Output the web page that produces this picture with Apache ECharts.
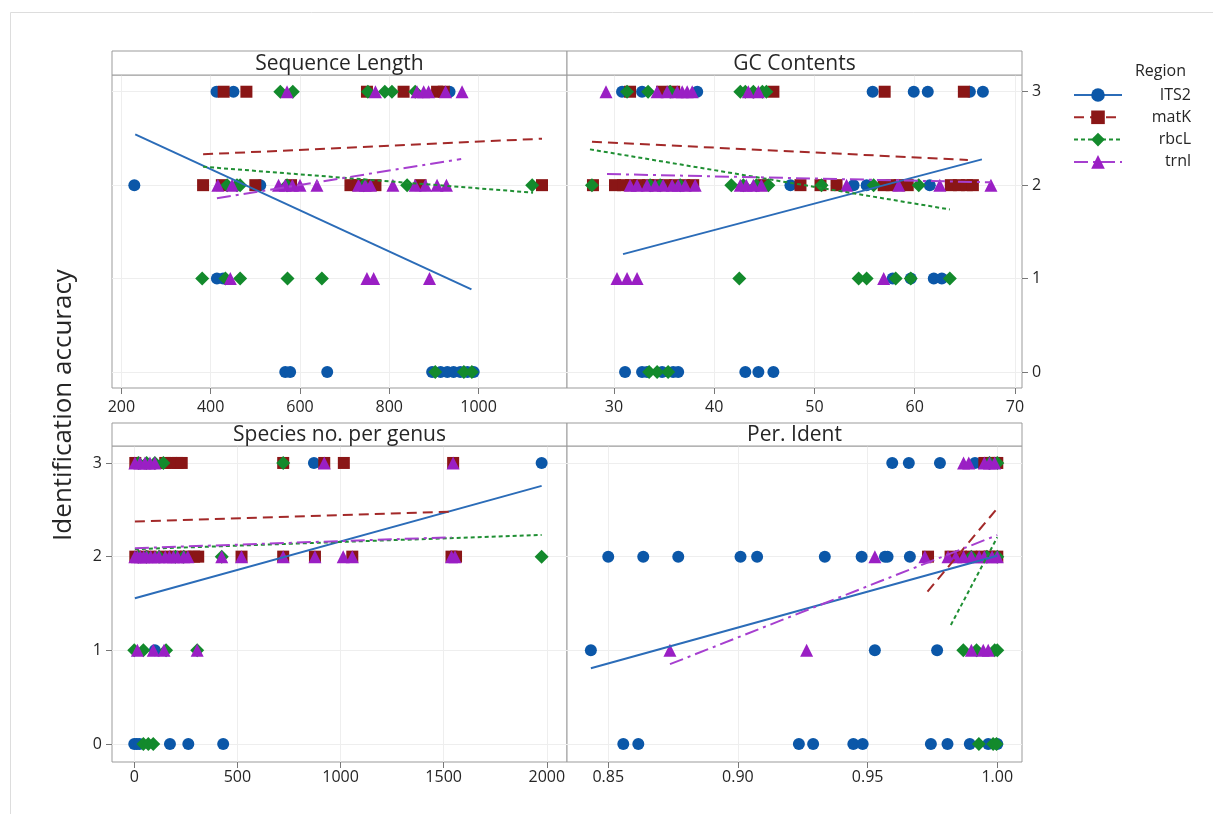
<!DOCTYPE html>
<html><head><meta charset="utf-8">
<script src="https://cdn.jsdelivr.net/npm/echarts@6/dist/echarts.min.js"></script>
<style>html,body{margin:0;padding:0;background:#fff}#c{width:1213px;height:814px}</style>
</head><body><div id="c"></div>
<script>
const regions = ['ITS2', 'matK', 'rbcL', 'trnl'];
const panelTitles = ['Sequence Length', 'GC Contents', 'Species no. per genus', 'Per. Ident'];
const yTicks = [0, 1, 2, 3];
const seqTicks = [200, 400, 600, 800, 1000];
const gcTicks = [30, 40, 50, 60, 70];
const spTicks = [0, 500, 1000, 1500, 2000];
const piTicks = [0.85, 0.90, 0.95, 1.00];

// Sequence Length
const seqITS2 = [[413,3],[451,3],[935,3],[229,2],[511,2],[414,1],[428,1],[567,0],[578,0],[661,0],[896,0],[915,0],[930,0],[944,0],[959,0],[975,0],[989,0]];
const seqMatK = [[429,3],[480,3],[750,3],[832,3],[907,3],[922,3],[383,2],[425,2],[500,2],[580,2],[713,2],[730,2],[750,2],[769,2],[870,2],[1142,2]];
const seqRbcL = [[556,3],[584,3],[752,3],[790,3],[806,3],[858,3],[437,2],[459,2],[466,2],[571,2],[743,2],[840,2],[1120,2],[381,1],[433,1],[466,1],[572,1],[649,1],[903,0],[967,0],[985,0]];
const seqTrnl = [[571,3],[769,3],[862,3],[877,3],[888,3],[926,3],[963,3],[416,2],[448,2],[552,2],[567,2],[583,2],[600,2],[638,2],[731,2],[746,2],[758,2],[808,2],[858,2],[881,2],[907,2],[928,2],[444,1],[750,1],[765,1],[890,1]];
const seqFitITS2 = [[231,2.544],[984,0.884]];
const seqFitMatK = [[383,2.33],[1142,2.497]];
const seqFitRbcL = [[383,2.197],[1122,1.92]];
const seqFitTrnl = [[414,1.859],[961,2.28]];

// GC Contents
const gcITS2 = [[30.8,3],[32.8,3],[38.3,3],[55.8,3],[59.9,3],[61.3,3],[65.5,3],[66.8,3],[47.6,2],[53.9,2],[55.2,2],[61.5,2],[57.8,1],[59.6,1],[61.9,1],[62.7,1],[31.1,0],[32.8,0],[33.3,0],[34.8,0],[35.9,0],[36.4,0],[43.1,0],[44.4,0],[45.9,0]];
const gcMatK = [[31.6,3],[34.8,3],[36.0,3],[45.9,3],[57.0,3],[64.9,3],[27.9,2],[30.1,2],[30.9,2],[31.7,2],[32.5,2],[33.4,2],[34.3,2],[35.2,2],[36.1,2],[37.0,2],[37.9,2],[44.9,2],[48.6,2],[50.6,2],[52.2,2],[56.9,2],[57.7,2],[58.5,2],[59.3,2],[63.6,2],[64.4,2],[65.2,2],[65.8,2]];
const gcRbcL = [[31.3,3],[33.4,3],[35.6,3],[42.6,3],[43.1,3],[43.9,3],[44.8,3],[45.2,3],[27.8,2],[33.6,2],[34.6,2],[36.6,2],[41.7,2],[42.9,2],[44.2,2],[45.4,2],[50.7,2],[55.9,2],[60.4,2],[42.5,1],[54.4,1],[55.2,1],[58.1,1],[59.6,1],[63.5,1],[33.5,0],[34.3,0],[35.4,0]];
const gcTrnl = [[29.2,3],[34.3,3],[35.3,3],[36.3,3],[36.8,3],[37.3,3],[37.8,3],[43.4,3],[44.4,3],[31.6,2],[32.3,2],[33.3,2],[34.1,2],[34.9,2],[35.8,2],[36.4,2],[37.1,2],[38.1,2],[42.6,2],[43.2,2],[43.9,2],[44.7,2],[53.2,2],[58.4,2],[62.5,2],[67.6,2],[30.3,1],[31.3,1],[32.3,1],[56.9,1]];
const gcFitITS2 = [[30.9,1.262],[66.7,2.276]];
const gcFitMatK = [[27.8,2.465],[65.3,2.27]];
const gcFitRbcL = [[27.6,2.383],[63.5,1.74]];
const gcFitTrnl = [[29.3,2.119],[67.6,2.03]];

// Species no. per genus
const spITS2 = [[871,3],[1975,3],[100,1],[0,0],[12,0],[25,0],[173,0],[262,0],[431,0]];
const spMatK = [[5,3],[150,3],[180,3],[210,3],[230,3],[722,3],[921,3],[1016,3],[1546,3],[5,2],[40,2],[80,2],[150,2],[200,2],[250,2],[290,2],[310,2],[520,2],[722,2],[876,2],[1057,2],[1538,2],[1560,2]];
const spRbcL = [[20,3],[60,3],[100,3],[141,3],[722,3],[20,2],[60,2],[120,2],[200,2],[240,2],[424,2],[1975,2],[0,1],[44,1],[154,1],[305,1],[44,0],[68,0],[92,0]];
const spTrnl = [[3,3],[27,3],[52,3],[76,3],[100,3],[921,3],[1546,3],[3,2],[15,2],[30,2],[45,2],[60,2],[80,2],[100,2],[120,2],[150,2],[170,2],[190,2],[210,2],[240,2],[260,2],[424,2],[520,2],[722,2],[876,2],[1013,2],[1057,2],[1538,2],[1555,2],[15,1],[92,1],[144,1],[305,1]];
const spFitITS2 = [[3,1.556],[1975,2.755]];
const spFitMatK = [[3,2.374],[1530,2.48]];
const spFitRbcL = [[3,2.079],[1975,2.232]];
const spFitTrnl = [[3,2.09],[1538,2.207]];

// Per. Ident
const piITS2 = [[0.9595,3],[0.9659,3],[0.9779,3],[0.9914,3],[0.850,2],[0.8635,2],[0.877,2],[0.901,2],[0.9074,2],[0.9335,2],[0.9477,2],[0.9567,2],[0.9577,2],[0.9663,2],[0.8433,1],[0.9528,1],[0.9768,1],[0.8558,0],[0.8616,0],[0.9235,0],[0.929,0],[0.9445,0],[0.9481,0],[0.9744,0],[0.9808,0],[0.9894,0],[0.9965,0],[1.0,0]];
const piMatK = [[0.995,3],[0.997,3],[0.999,3],[1.0,3],[0.9733,2],[0.982,2],[0.986,2],[0.990,2],[0.994,2],[0.997,2],[1.0,2]];
const piRbcL = [[0.997,3],[1.0,3],[0.990,2],[0.996,2],[1.0,2],[0.9869,1],[0.992,1],[0.999,1],[1.0,1],[0.9929,0],[0.9984,0],[0.9997,0]];
const piTrnl = [[0.987,3],[0.989,3],[0.995,3],[0.997,3],[0.999,3],[0.9528,2],[0.9721,2],[0.981,2],[0.984,2],[0.987,2],[0.990,2],[0.993,2],[0.995,2],[0.998,2],[1.0,2],[0.8738,1],[0.9265,1],[0.990,1],[0.9946,1],[0.9965,1]];
const piFitITS2 = [[0.8433,0.809],[1.0,2.01]];
const piFitMatK = [[0.9731,1.627],[1.0,2.516]];
const piFitRbcL = [[0.9821,1.271],[1.0,2.207]];
const piFitTrnl = [[0.8738,0.852],[1.0,2.23]];

const panelPoints = [
  [seqITS2, seqMatK, seqRbcL, seqTrnl],
  [gcITS2, gcMatK, gcRbcL, gcTrnl],
  [spITS2, spMatK, spRbcL, spTrnl],
  [piITS2, piMatK, piRbcL, piTrnl]
];
const panelFits = [
  [seqFitITS2, seqFitMatK, seqFitRbcL, seqFitTrnl],
  [gcFitITS2, gcFitMatK, gcFitRbcL, gcFitTrnl],
  [spFitITS2, spFitMatK, spFitRbcL, spFitTrnl],
  [piFitITS2, piFitMatK, piFitRbcL, piFitTrnl]
];
const panelTicks = [seqTicks, gcTicks, spTicks, piTicks];

const FONT = 'Open Sans';
const TXT = '#262626';
const BORDER = '#9b9b9b';
const GRIDC = '#eeeeee';
const style = {
  ITS2: { symbol: 'circle', size: 12, mark: '#0B57A8', line: '#2B6CB8', type: 'solid' },
  matK: { symbol: 'rect', size: 12, mark: '#8A1616', line: '#A32929', type: [10, 6] },
  rbcL: { symbol: 'diamond', size: 14, mark: '#138A2C', line: '#1F8F33', type: [4, 3] },
  trnl: { symbol: 'triangle', size: 13, mark: '#9A1FC4', line: '#A63FCF', type: [14, 5, 3, 5] }
};

const grids = [
  { left: 112, top: 75, width: 455, height: 313 },
  { left: 567, top: 75, width: 455, height: 313 },
  { left: 112, top: 446, width: 455, height: 316 },
  { left: 567, top: 446, width: 455, height: 316 }
].map(g => Object.assign(g, { show: true, borderColor: BORDER, borderWidth: 1, backgroundColor: '#fff', containLabel: false }));

const xRanges = [[179, 1198], [25.31, 70.70], [-108, 2098], [0.8341, 1.00953]];
const yRanges = [[-0.171, 3.179], [-0.171, 3.179], [-0.192, 3.181], [-0.192, 3.181]];
const xFmt = [v => String(v), v => String(v), v => String(v), v => v.toFixed(2)];
const xMargin = [11, 11, 7, 7];

const xAxes = xRanges.map((r, i) => ({
  gridIndex: i, type: 'value', min: r[0], max: r[1], position: 'bottom',
  axisLine: { show: false, onZero: false },
  axisTick: { show: true, inside: false, customValues: panelTicks[i], length: 6, lineStyle: { color: '#777' } },
  axisLabel: { customValues: panelTicks[i], formatter: xFmt[i], fontSize: 16, color: TXT, fontFamily: FONT, margin: xMargin[i] },
  splitLine: { show: true, lineStyle: { color: GRIDC, width: 1 } }
}));
const yAxes = yRanges.map((r, i) => ({
  gridIndex: i, type: 'value', min: r[0], max: r[1],
  position: i === 1 ? 'right' : 'left',
  axisLine: { show: false, onZero: false },
  axisTick: { show: i === 1 || i === 2, inside: false, customValues: yTicks, length: 6, lineStyle: { color: '#777' } },
  axisLabel: { show: i === 1 || i === 2, customValues: yTicks, fontSize: 16, color: TXT, fontFamily: FONT, margin: 10 },
  splitLine: { show: true, lineStyle: { color: GRIDC, width: 1 } }
}));

const series = [];
// regression lines first (they define the legend icons)
panelFits.forEach((fits, p) => {
  fits.forEach((fit, k) => {
    const s = style[regions[k]];
    series.push({
      type: 'line', name: regions[k], xAxisIndex: p, yAxisIndex: p, data: fit,
      showSymbol: false, symbol: s.symbol, symbolSize: s.size,
      itemStyle: { color: s.mark }, lineStyle: { color: s.line, width: 2, type: s.type },
      z: 4, silent: true, animation: false
    });
  });
});
panelPoints.forEach((pts, p) => {
  pts.forEach((arr, k) => {
    const s = style[regions[k]];
    series.push({
      type: 'scatter', name: regions[k], xAxisIndex: p, yAxisIndex: p, data: arr,
      symbol: s.symbol, symbolSize: s.size, itemStyle: { color: s.mark, opacity: 1 },
      z: 2 + k * 0.1, animation: false
    });
  });
});

const graphics = [
  { type: 'rect', shape: { x: 10.5, y: 12.5, width: 1230, height: 830 }, style: { fill: null, stroke: '#dddddd', lineWidth: 1 }, z: -10, silent: true }
];
const headers = [
  { x: 112, y: 51, w: 455, h: 24 }, { x: 567, y: 51, w: 455, h: 24 },
  { x: 112, y: 423, w: 455, h: 23 }, { x: 567, y: 423, w: 455, h: 23 }
];
headers.forEach((h, i) => {
  graphics.push({ type: 'rect', shape: { x: h.x, y: h.y, width: h.w, height: h.h }, style: { fill: '#fff', stroke: BORDER, lineWidth: 1 }, z: 10, silent: true });
  graphics.push({ type: 'text', x: h.x + h.w / 2, y: h.y + h.h / 2 + 1, style: { text: panelTitles[i], font: '21px "' + FONT + '"', fill: TXT, align: 'center', verticalAlign: 'middle' }, z: 11, silent: true });
});
graphics.push({ type: 'text', x: 64, y: 405, rotation: Math.PI / 2, style: { text: 'Identification accuracy', font: '26px "' + FONT + '"', fill: TXT, align: 'center', verticalAlign: 'middle' }, z: 11, silent: true });
graphics.push({ type: 'text', x: 1186, y: 71, style: { text: 'Region', font: '16px "' + FONT + '"', fill: TXT, align: 'right', verticalAlign: 'middle' }, z: 11, silent: true });

const option = {
  backgroundColor: '#ffffff',
  animation: false,
  textStyle: { fontFamily: FONT },
  grid: grids,
  xAxis: xAxes,
  yAxis: yAxes,
  legend: {
    data: regions, orient: 'vertical', left: 1068, top: 82,
    itemWidth: 48, itemHeight: 17, itemGap: 6.3,
    formatter: '{n|{name}}',
    textStyle: { rich: { n: { width: 64, align: 'right', fontSize: 16, lineHeight: 17, color: TXT, fontFamily: FONT } } },
    selectedMode: false
  },
  graphic: graphics,
  series: series
};
const chart = echarts.init(document.getElementById('c'), null, { renderer: 'canvas' });
chart.setOption(option);
</script></body></html>
